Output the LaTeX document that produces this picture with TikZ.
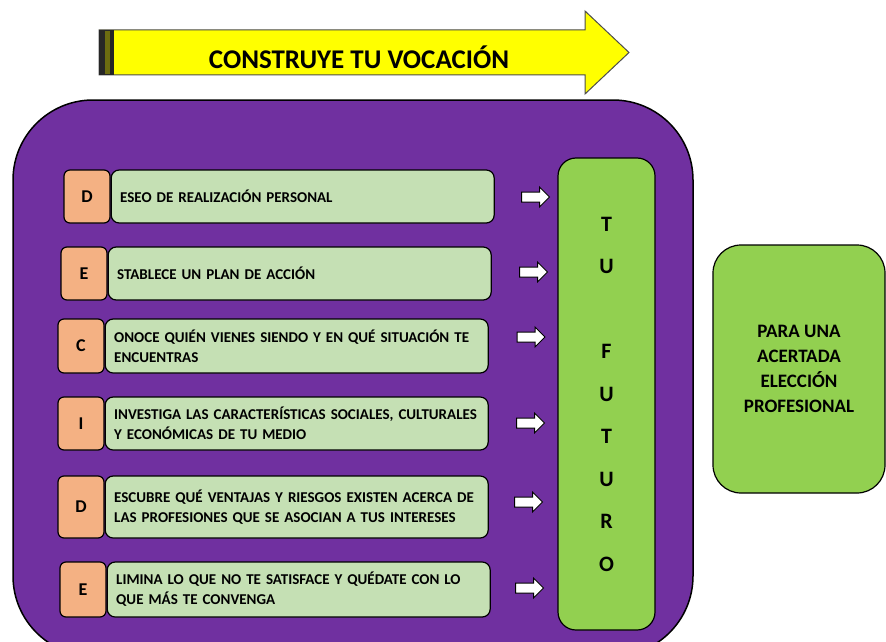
\documentclass[tikz,border=0pt]{standalone}
\usepackage{fontspec}
\setmainfont{Carlito}
\usetikzlibrary{shapes.arrows,positioning}
\definecolor{morado}{HTML}{7030A0}
\definecolor{verde}{HTML}{92D050}
\definecolor{verdeclaro}{HTML}{C5E0B4}
\definecolor{naranja}{HTML}{F4B183}
\definecolor{amarillo}{HTML}{FFFF00}
\definecolor{oliva}{HTML}{6B6B10}

\begin{document}
\begin{tikzpicture}[x=1pt,y=-1pt,every node/.style={font=\bfseries},
  letra/.style={draw,line width=1.2pt,fill=naranja,rounded corners=6pt,minimum width=46pt,inner sep=0pt,font=\bfseries\fontsize{18}{18}\selectfont},
  paso/.style={draw,line width=1.2pt,fill=verdeclaro,rounded corners=8pt,text width=365pt,inner xsep=9pt,inner ysep=0pt,align=left,font=\bfseries\fontsize{15}{20}\selectfont},
  flecha/.style={single arrow,draw,line width=1pt,fill=white,minimum height=28pt,single arrow head extend=5pt,inner xsep=0pt,inner ysep=4.5pt}]
\useasboundingbox (0,0) rectangle (886,642);
\draw[line width=1pt,draw=black!70,fill=amarillo] (99,30) -- (585,30) -- (585,11) -- (629,52.5) -- (585,94) -- (585,75) -- (99,75) -- cycle;
\fill[black!85] (99,30) rectangle (114,75);
\fill[oliva] (105,31) rectangle (110,74);
\node[anchor=base,font=\bfseries\fontsize{27}{27}\selectfont] (titulo) at (359,69) {CONSTRUYE TU VOCACIÓN};
\draw[line width=1.5pt,fill=morado,rounded corners=80pt] (13,100) rectangle (693,656);
\node[letra,minimum height=53pt] (l1) at (87,196.5) {D};
\node[paso,minimum height=53pt,right=0pt of l1] (p1) {ESEO DE REALIZACIÓN PERSONAL};
\node[letra,minimum height=53pt] (l2) at (84,273.5) {E};
\node[paso,minimum height=53pt,right=0pt of l2] (p2) {STABLECE UN PLAN DE ACCIÓN};
\node[letra,minimum height=54pt] (l3) at (81,346) {C};
\node[paso,minimum height=54pt,right=0pt of l3] (p3) {ONOCE QUIÉN VIENES SIENDO Y EN QUÉ SITUACIÓN TE\\ENCUENTRAS};
\node[letra,minimum height=53pt] (l4) at (81,423.5) {I};
\node[paso,minimum height=53pt,right=0pt of l4] (p4) {INVESTIGA LAS CARACTERÍSTICAS SOCIALES, CULTURALES\\Y ECONÓMICAS DE TU MEDIO};
\node[letra,minimum height=62pt] (l5) at (81,507) {D};
\node[paso,minimum height=62pt,right=0pt of l5] (p5) {ESCUBRE QUÉ VENTAJAS Y RIESGOS EXISTEN ACERCA DE\\LAS PROFESIONES QUE SE ASOCIAN A TUS INTERESES};
\node[letra,minimum height=55pt] (l6) at (83,589.5) {E};
\node[paso,minimum height=55pt,right=0pt of l6] (p6) {LIMINA LO QUE NO TE SATISFACE Y QUÉDATE CON LO\\QUE MÁS TE CONVENGA};
\node[flecha] (f1) at (533,197) {};
\node[flecha] (f2) at (531,272) {};
\node[flecha] (f3) at (528.5,337) {};
\node[flecha] (f4) at (528,423) {};
\node[flecha] (f5) at (526,502) {};
\node[flecha] (f6) at (527,588) {};
\node[draw,line width=1.2pt,fill=verde,rounded corners=18pt,minimum width=97pt,minimum height=472pt,align=center,font=\bfseries\fontsize{22}{42.5}\selectfont] (futuro) at (606.5,394) {T\\U\\[42.5pt]F\\U\\T\\U\\R\\O};
\node[draw,line width=1.2pt,fill=verde,rounded corners=28pt,minimum width=172pt,minimum height=248pt,align=center,font=\bfseries\fontsize{19}{25}\selectfont] (eleccion) at (799,369) {PARA UNA\\ACERTADA\\ELECCIÓN\\PROFESIONAL};
\end{tikzpicture}
\end{document}
